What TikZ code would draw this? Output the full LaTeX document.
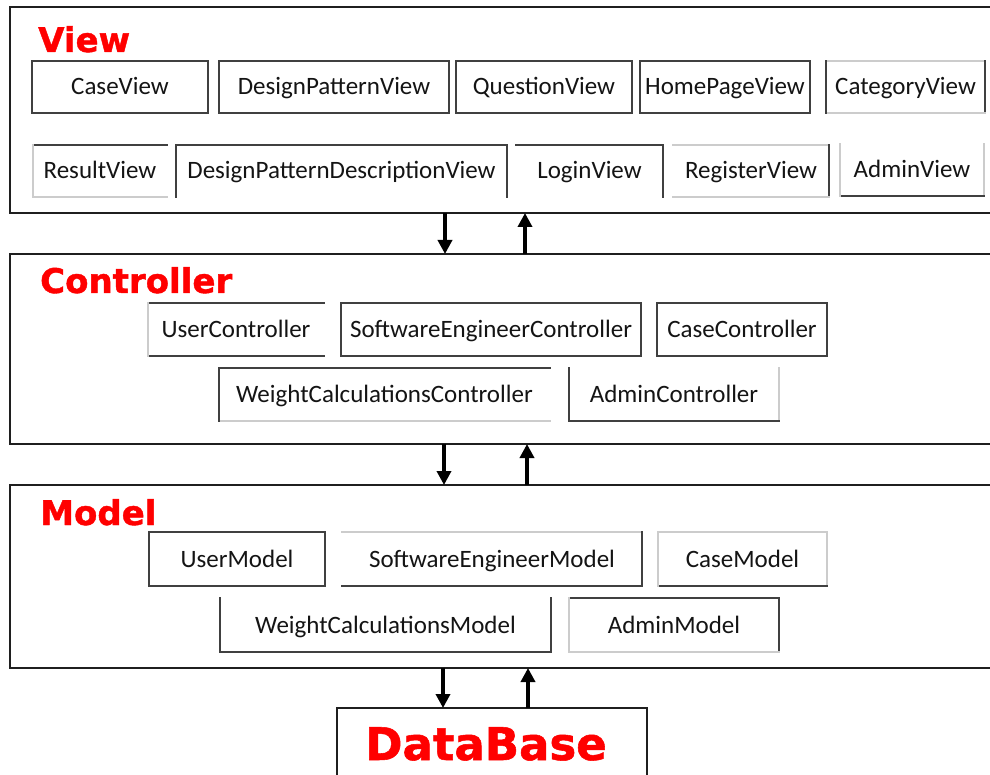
\documentclass[tikz,border=0pt]{standalone}
\usepackage{fontspec}
\setmainfont{Carlito}
\newfontfamily\titlefont[BoldFeatures={FakeBold=1.2}]{DejaVu Sans}
\usetikzlibrary{arrows.meta}
\newcommand\clsbox[9]{%
  \node[cls, minimum width=#3pt, minimum height=#4pt] (#1) at (#2) {#5};
  \draw[#6] (#1.north west) -- (#1.north east);
  \draw[#7] (#1.north east) -- (#1.south east);
  \draw[#8] (#1.south east) -- (#1.south west);
  \draw[#9] (#1.south west) -- (#1.north west);
}
\begin{document}
\begin{tikzpicture}[x=1pt,y=-1pt,
  layer/.style={draw=black!88, line width=2pt, fill=none, inner sep=0pt, outer sep=0pt},
  cls/.style={draw=none, inner sep=0pt, outer sep=0pt, text height=16pt, text depth=0pt,
              font=\fontsize{25}{30}\selectfont, text=black!92},
  ttl/.style={anchor=base west, inner sep=0pt, text=red, font=\titlefont\bfseries\fontsize{34}{40}\selectfont},
  arr/.style={line width=3.8pt, draw=black, -{Triangle[length=14pt,width=14pt]}},
  eD/.style={draw=black!75, line width=1.3pt, line cap=rect},
  eL/.style={draw=black!20, line width=1.3pt, line cap=rect},
  eN/.style={draw=none},
]
\useasboundingbox (0,0) rectangle (990,775);
\fill[white] (0,0) rectangle (990,775);
\clip (0,0) rectangle (990,775);

% layers
\node[layer, minimum width=985pt, minimum height=206pt, anchor=north west] (view) at (10,7) {};
\node[layer, minimum width=985pt, minimum height=190pt, anchor=north west] (ctrl) at (10,254) {};
\node[layer, minimum width=985pt, minimum height=183pt, anchor=north west] (model) at (10,485) {};
\node[layer, minimum width=310pt, minimum height=100pt, anchor=north west] (db) at (337,708) {};

% titles
\node[ttl] (tview) at (38,52) {View};
\node[ttl] (tctrl) at (40,293) {Controller};
\node[ttl] (tmodel) at (40,525) {Model};
\node[ttl, font=\titlefont\bfseries\fontsize{45}{50}\selectfont] (tdb) at (365,760) {DataBase};

% View row 1
\clsbox{caseview}{120,87}{176}{52}{CaseView}{eD}{eD}{eD}{eD}
\clsbox{dpview}{334,87}{230}{52}{DesignPatternView}{eD}{eD}{eD}{eD}
\clsbox{qview}{544,87}{176}{52}{QuestionView}{eD}{eD}{eD}{eD}
\clsbox{hpview}{725,87}{170}{52}{HomePageView}{eD}{eD}{eD}{eD}
\clsbox{catview}{905.5,87}{159}{52}{CategoryView}{eL}{eD}{eL}{eD}
% View row 2
\clsbox{resview}{100,171}{134}{52}{ResultView}{eD}{eN}{eL}{eL}
\clsbox{dpdview}{341.5,171}{331}{52}{DesignPatternDescriptionView}{eD}{eD}{eN}{eD}
\clsbox{loginview}{589.5,171}{147}{52}{LoginView}{eD}{eD}{eN}{eN}
\clsbox{regview}{751,171}{156}{52}{RegisterView}{eL}{eD}{eL}{eN}
\clsbox{adminview}{912,170}{144}{52}{AdminView}{eN}{eL}{eD}{eL}

% Controller row 1
\clsbox{userctrl}{236,329.5}{176}{53}{UserController}{eD}{eN}{eD}{eL}
\clsbox{sectrl}{491,329.5}{300}{53}{SoftwareEngineerController}{eD}{eD}{eD}{eD}
\clsbox{casectrl}{742,329.5}{170}{53}{CaseController}{eD}{eD}{eD}{eD}
% Controller row 2
\clsbox{wcctrl}{384.5,394.5}{331}{53}{WeightCalculationsController}{eD}{eN}{eL}{eD}
\clsbox{adminctrl}{674,394.5}{210}{53}{AdminController}{eN}{eL}{eD}{eD}

% Model row 1
\clsbox{usermodel}{237,559}{176}{54}{UserModel}{eD}{eD}{eD}{eD}
\clsbox{semodel}{492,559}{300}{54}{SoftwareEngineerModel}{eL}{eD}{eD}{eN}
\clsbox{casemodel}{742.5,559}{169}{54}{CaseModel}{eL}{eL}{eD}{eL}
% Model row 2
\clsbox{wcmodel}{385.5,625}{331}{54}{WeightCalculationsModel}{eN}{eD}{eD}{eD}
\clsbox{adminmodel}{674,625}{210}{54}{AdminModel}{eD}{eD}{eL}{eL}

% arrows
\coordinate (a1) at (445,0);
\coordinate (a2) at (525,0);
\coordinate (a3) at (444,0);
\coordinate (a4) at (527,0);
\coordinate (a5) at (443,0);
\coordinate (a6) at (528,0);
\draw[arr] (view.south -| a1) -- (ctrl.north -| a1);
\draw[arr] (ctrl.north -| a2) -- (view.south -| a2);
\draw[arr] (ctrl.south -| a3) -- (model.north -| a3);
\draw[arr] (model.north -| a4) -- (ctrl.south -| a4);
\draw[arr] (model.south -| a5) -- (db.north -| a5);
\draw[arr] (db.north -| a6) -- (model.south -| a6);
\end{tikzpicture}
\end{document}
